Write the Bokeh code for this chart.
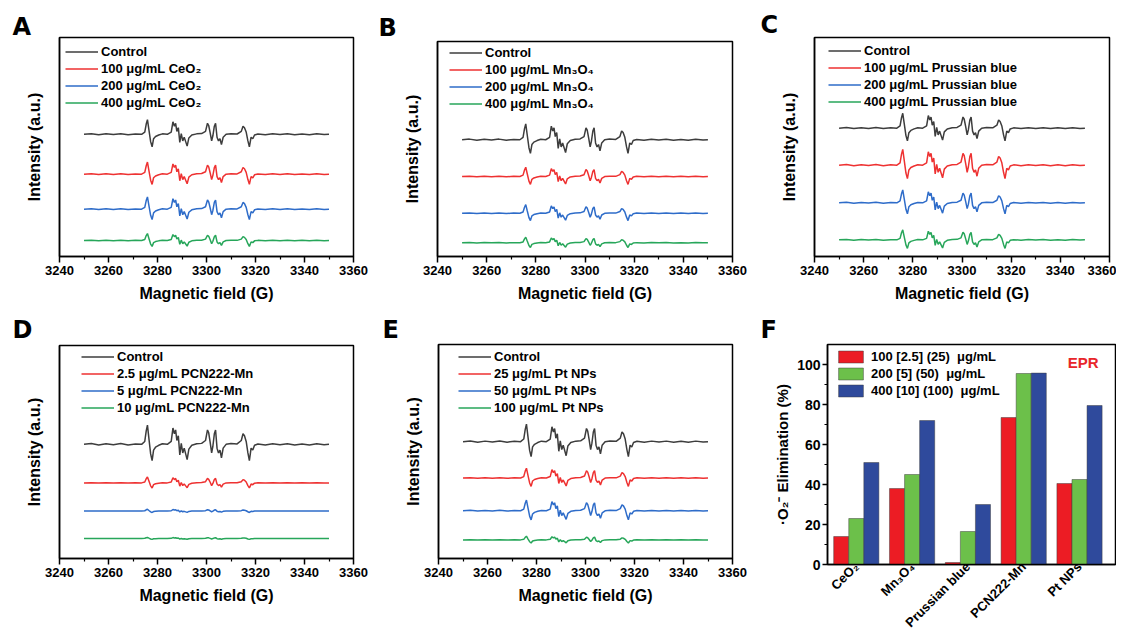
import math
from bokeh.plotting import figure
from bokeh.layouts import row, column
from bokeh.models import Range1d, FixedTicker, Legend, LegendItem, Label, Title
from bokeh.embed import file_html
from bokeh.resources import INLINE

# ---------------- data ----------------
# EPR spectrum profile (DMPO-OOH pattern), normalised to the first peak
field_g = [3250, 3253, 3256, 3259, 3262, 3265, 3268, 3271, 3273.5, 3274.8, 3275.4, 3275.9, 3276.5,
           3277.2, 3277.8, 3278.4, 3279.2, 3280.5, 3282, 3284, 3285.6, 3286.3, 3286.9, 3287.4,
           3287.9, 3288.5, 3289.1, 3289.7, 3290.3, 3290.9, 3291.5, 3292.1, 3292.8, 3294, 3296,
           3298, 3299.6, 3300.4, 3300.9, 3301.5, 3302.1, 3302.6, 3303.2, 3303.7, 3304.3, 3304.9,
           3305.5, 3306.1, 3306.8, 3308, 3310, 3312.5, 3314.2, 3314.9, 3315.5, 3316.2, 3316.9,
           3317.5, 3318.2, 3318.9, 3319.6, 3321, 3324, 3327, 3330, 3333, 3336, 3339, 3342, 3345,
           3348, 3350]
shape_rel = [0.0, 0.04, -0.03, 0.03, -0.02, 0.04, -0.03, 0.02, 0.0, 0.15, 0.7, 1.0, 0.3,
             -0.5, -0.85, -0.3, -0.15, -0.05, 0.03, 0.0, 0.15, 0.85, 0.55, 0.75,
             0.2, 0.45, -0.55, 0.05, -0.45, -0.2, -0.5, -0.8, -0.25, -0.05, 0.03,
             0.05, 0.2, 0.75, 0.6, 0.1, -0.45, -0.1, 0.55, 0.75, -0.2, -0.45,
             -0.3, -0.7, -0.2, 0.0, 0.04, 0.02, 0.2, 0.55, 0.45, 0.15, -0.45,
             -0.85, -0.2, -0.3, -0.05, 0.02, -0.03, 0.03, -0.02, 0.03, -0.03, 0.02, -0.03, 0.03,
             -0.02, 0.0]

x_ticks = [3240, 3260, 3280, 3300, 3320, 3340, 3360]
x_minor = [3250, 3270, 3290, 3310, 3330, 3350]

trace_colors = ["#3d3d3d", "#ee3131", "#2e6cc9", "#27a65a"]

A_labels = ["Control", "100 μg/mL CeO₂", "200 μg/mL CeO₂", "400 μg/mL CeO₂"]
A_offsets = [55.8, 37.6, 21.6, 7.3]
A_amps = [6.7, 5.5, 5.6, 3.2]

B_labels = ["Control", "100 μg/mL Mn₃O₄", "200 μg/mL Mn₃O₄", "400 μg/mL Mn₃O₄"]
B_offsets = [54.3, 37.2, 20.1, 6.4]
B_amps = [7.4, 4.3, 4.0, 2.6]

C_labels = ["Control", "100 μg/mL Prussian blue", "200 μg/mL Prussian blue", "400 μg/mL Prussian blue"]
C_offsets = [58.6, 41.7, 24.5, 7.6]
C_amps = [6.8, 7.2, 5.9, 4.6]

D_labels = ["Control", "2.5 μg/mL PCN222-Mn", "5 μg/mL PCN222-Mn", "10 μg/mL PCN222-Mn"]
D_offsets = [53.6, 35.5, 22.3, 9.4]
D_amps = [9.0, 2.8, 0.8, 0.5]

E_labels = ["Control", "25 μg/mL Pt NPs", "50 μg/mL Pt NPs", "100 μg/mL Pt NPs"]
E_offsets = [54.6, 37.6, 22.3, 8.7]
E_amps = [8.2, 4.6, 5.0, 1.7]

# Panel F bar chart
F_categories = ["CeO₂", "Mn₃O₄", "Prussian blue", "PCN222-Mn", "Pt NPs"]
F_series = ["100 [2.5] (25)  μg/mL", "200 [5] (50)  μg/mL", "400 [10] (100)  μg/mL"]
F_low = [14, 38, 1, 73.5, 40.5]
F_mid = [23, 45, 16.5, 95.5, 42.5]
F_high = [51, 72, 30, 95.7, 79.5]
F_colors = ["#ec1c24", "#6cc04a", "#2f4a9c"]
F_yticks = [0, 20, 40, 60, 80, 100]
F_yminor = [10, 30, 50, 70, 90]

FONT = "Liberation Sans"


def style_axis(ax, size):
    ax.axis_line_width = 1.5
    ax.axis_line_color = "black"
    ax.major_tick_line_width = 1.5
    ax.minor_tick_line_width = 1.2
    ax.major_tick_in = 0
    ax.major_tick_out = 6
    ax.minor_tick_in = 0
    ax.minor_tick_out = 3
    ax.major_label_text_font = FONT
    ax.major_label_text_font_style = "bold"
    ax.major_label_text_font_size = size
    ax.major_label_text_color = "black"
    ax.axis_label_text_font = FONT
    ax.axis_label_text_font_style = "bold"
    ax.axis_label_text_font_size = "16px"
    ax.axis_label_text_color = "black"


def add_letter(p, letter, offset, standoff):
    p.add_layout(Title(text=letter, align="left", offset=offset, standoff=standoff,
                       vertical_align="bottom",
                       text_font="DejaVu Sans", text_font_style="bold",
                       text_font_size="24px", text_color="black"), "above")


def epr_panel(letter, labels, offsets, amps, width, height, left, right, top, bottom,
              leg_loc, letter_pos):
    p = figure(width=width, height=height, x_range=Range1d(3240, 3360), y_range=Range1d(0, 100),
               output_backend="svg", toolbar_location=None, frame_align=False,
               min_border_left=left, min_border_right=right, min_border_top=top,
               min_border_bottom=bottom)
    p.grid.visible = False
    p.outline_line_color = "black"
    p.outline_line_width = 1.5
    p.outline_line_alpha = 1.0
    style_axis(p.xaxis[0], "13px")
    p.xaxis.ticker = FixedTicker(ticks=x_ticks, minor_ticks=x_minor)
    p.xaxis.axis_label = "Magnetic field (G)"
    p.xaxis.major_label_standoff = 3
    p.xaxis.axis_label_standoff = 7
    style_axis(p.yaxis[0], "13px")
    p.yaxis.ticker = FixedTicker(ticks=[])
    p.yaxis.axis_label = "Intensity (a.u.)"
    p.yaxis.axis_label_standoff = 17
    items = []
    for lab, off, amp, col in zip(labels, offsets, amps, trace_colors):
        ys = [off + amp * s for s in shape_rel]
        r = p.line(field_g, ys, line_color=col, line_width=1.5)
        items.append(LegendItem(label=lab, renderers=[r]))
    leg = Legend(items=items, location=leg_loc, border_line_color=None,
                 background_fill_alpha=0, margin=0, padding=0, spacing=2,
                 glyph_width=33, glyph_height=15, label_height=15, label_standoff=3,
                 label_text_font=FONT, label_text_font_style="bold",
                 label_text_font_size="13px", label_text_color="black")
    p.add_layout(leg)
    add_letter(p, letter, *letter_pos)
    return p


pA = epr_panel("A", A_labels, A_offsets, A_amps, 380, 312, 59, 27, 37, 56, (6, 146), (-47, -6))
pB = epr_panel("B", B_labels, B_offsets, B_amps, 378, 312, 57, 26, 41, 56, (12, 145), (-59, 0))
pC = epr_panel("C", C_labels, C_offsets, C_amps, 358, 312, 56, 7, 37, 56, (14, 147.5), (-54, -3))
pD = epr_panel("D", D_labels, D_offsets, D_amps, 380, 326, 59, 27, 31, 80, (22, 143.5), (-47, 3))
pE = epr_panel("E", E_labels, E_offsets, E_amps, 378, 326, 58, 26, 30, 80, (20, 143), (-56, 2))

# ---------------- panel F ----------------
pF = figure(width=358, height=326, x_range=Range1d(0.484, 5.645), y_range=Range1d(0, 110),
            output_backend="svg", toolbar_location=None, frame_align=False,
            min_border_left=69, min_border_right=1, min_border_top=30, min_border_bottom=73)
pF.grid.visible = False
pF.outline_line_color = "black"
pF.outline_line_width = 1.5
pF.outline_line_alpha = 1.0
style_axis(pF.yaxis[0], "14px")
pF.yaxis.ticker = FixedTicker(ticks=F_yticks, minor_ticks=F_yminor)
pF.yaxis.major_tick_out = 5
pF.yaxis.major_label_standoff = 2
pF.yaxis.axis_label = "·O₂⁻ Elimination (%)"
pF.yaxis.axis_label_text_font_size = "15px"
pF.yaxis.axis_label_standoff = 3
style_axis(pF.xaxis[0], "13px")
cat_pos = list(range(1, len(F_categories) + 1))
pF.xaxis.ticker = FixedTicker(ticks=cat_pos)
pF.xaxis.major_label_overrides = {c: lab for c, lab in zip(cat_pos, F_categories)}
pF.xaxis.major_label_orientation = math.pi / 4
pF.xaxis.major_tick_line_color = None
pF.xaxis.major_tick_out = 0
pF.xaxis.major_label_standoff = 0

bar_w = 0.27
items = []
for k, (vals, col, lab) in enumerate(zip([F_low, F_mid, F_high], F_colors, F_series)):
    xs = [c + (k - 1) * bar_w for c in cat_pos]
    r = pF.vbar(x=xs, top=vals, width=bar_w, fill_color=col, line_color="#3a3a3a",
                line_width=0.6, line_alpha=0.8)
    items.append(LegendItem(label=lab, renderers=[r]))
legF = Legend(items=items, location=(8, 166.5), border_line_color=None, background_fill_alpha=0,
              margin=0, padding=0, spacing=2, glyph_width=31, glyph_height=15, label_height=15,
              label_standoff=5, label_text_font=FONT, label_text_font_style="bold",
              label_text_font_size="13px", label_text_color="black")
pF.add_layout(legF)
pF.add_layout(Label(x=5.34, y=101, text="EPR", text_align="right", text_baseline="middle",
                    text_color="#e8262a", text_font=FONT, text_font_style="bold",
                    text_font_size="15px"))
add_letter(pF, "F", -67, 2)

layout = column(row(pA, pB, pC), row(pD, pE, pF))
open("out.html", "w").write(file_html(layout, INLINE))
